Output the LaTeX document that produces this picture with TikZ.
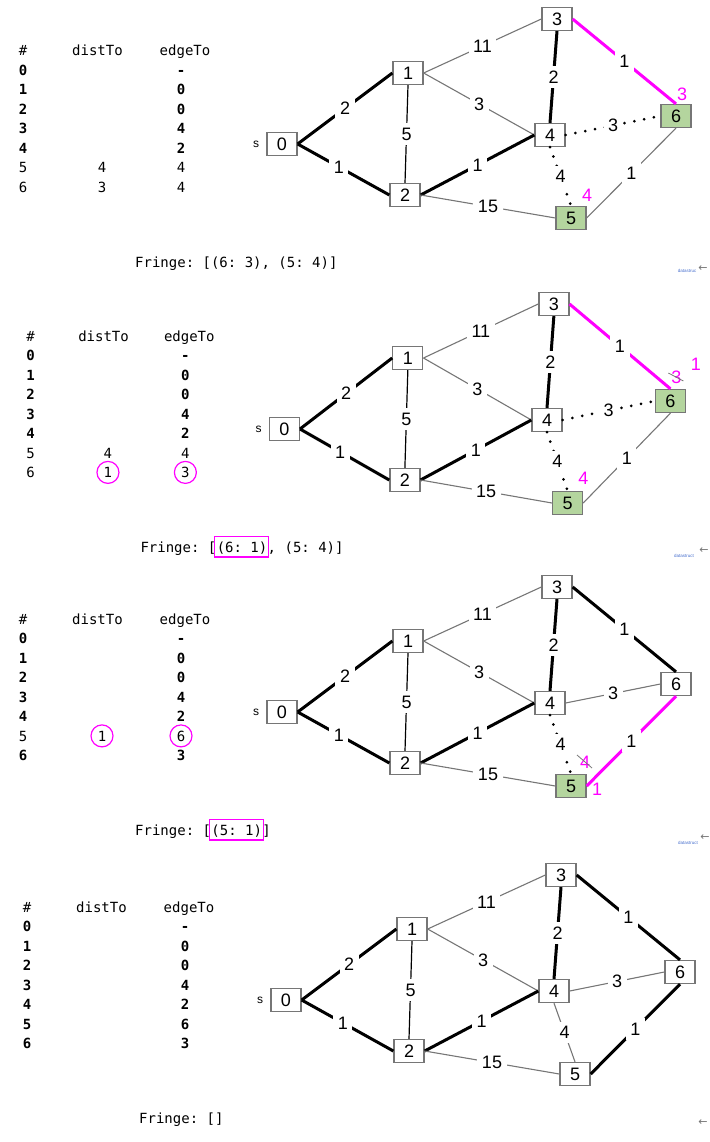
\documentclass[tikz,border=0pt]{standalone}
\usepackage{fontspec}
\setmainfont{Liberation Sans}
\newfontfamily\tabfont{DejaVu Sans Mono}
\newfontfamily\arrowfont{DejaVu Sans}
\usetikzlibrary{positioning}
\definecolor{hlpink}{RGB}{255,0,255}
\definecolor{framegray}{RGB}{118,118,118}
\definecolor{fringegreen}{RGB}{180,213,158}
\definecolor{linkblue}{RGB}{70,110,205}
\frenchspacing

\begin{document}
\begin{tikzpicture}[x=1pt,y=-1pt,
    panel a/.style={},
    panel b/.style={shift={(8,285)},xscale=.98},
    panel c/.style={shift={(0,568)}},
    panel d/.style={shift={(4,856)}},
    vtx/.style={draw=framegray,line width=1.3pt,fill=white,minimum width=30pt,minimum height=23pt,inner sep=0pt,font=\fontsize{18}{18}\selectfont},
    done/.style={fill=fringegreen},
    tree/.style={line width=3pt},
    spoke/.style={line width=1.2pt},
    side/.style={line width=1.1pt,draw=framegray},
    probe/.style={line width=3pt,dash pattern=on 0pt off 10pt,line cap=round},
    relax/.style={line width=3pt,draw=hlpink},
    wt/.style={fill=white,inner sep=4.5pt,font=\fontsize{18}{18}\selectfont},
    note/.style={text=hlpink,inner sep=0pt,font=\fontsize{18}{18}\selectfont},
    strike/.style={draw=framegray,line width=.8pt},
    cell/.style={anchor=base,inner sep=0pt,font=\tabfont\fontsize{14}{14}\selectfont},
    bcell/.style={cell,font=\tabfont\bfseries\fontsize{14}{14}\selectfont},
    ring/.style={circle,draw=hlpink,line width=1.2pt,minimum size=22pt},
    hlpen/.style={draw=hlpink,line width=1.2pt},
    src/.style={inner sep=0pt,font=\fontsize{12}{12}\selectfont},
    tiny/.style={inner sep=0pt,text=linkblue,font=\fontsize{4.5}{4.5}\selectfont},
    back/.style={inner sep=0pt,text=framegray,font=\arrowfont\fontsize{11}{11}\selectfont}]
  \useasboundingbox (0,0) rectangle (709,1142);

  % header, rows 0-4 and vertices 0-4 are the same in every step
  \foreach \p in {a,b,c,d}{
    \begin{scope}[panel \p]
      \node[cell] (\p-num) at (23,56) {\#};
      \node[cell] (\p-dist) at (97.5,56) {distTo};
      \node[cell] (\p-edge) at (185,56) {edgeTo};
      \foreach \r/\e in {0/-,1/0,2/0,3/4,4/2}{
        \node[bcell] (\p-num\r) at (23,75.5+19.5*\r) {\r};
        \node[bcell] (\p-edge\r) at (181,75.5+19.5*\r) {\e};
      }
      \foreach \n/\x/\y in {0/282/144,1/408/73,2/405/195,3/557/19,4/550/135}
        \node[vtx] (\p\n) at (\x,\y) {\n};
      \node[src,left=7pt of \p0] (\p-s) {s};
    \end{scope}
  }

  % step 1
  \begin{scope}[panel a]
    \node[cell] (a-num5) at (23,173) {5};
    \node[cell] (a-dist5) at (102,173) {4};
    \node[cell] (a-edge5) at (181,173) {4};
    \node[cell] (a-num6) at (23,192.5) {6};
    \node[cell] (a-dist6) at (102,192.5) {3};
    \node[cell] (a-edge6) at (181,192.5) {4};
    \node[cell,anchor=base west] (a-f1) at (135,267) {Fringe: [(6: 3), (5: 4)]};
    \node[vtx,done] (a5) at (571,218) {5};
    \node[vtx,done] (a6) at (676,116) {6};
    \node[note] (a-d6) at (682,94) {3};
    \node[note] (a-d5) at (587,195) {4};
  \end{scope}
  \draw[relax] (a3.east) -- node[wt] {1} (a6.north);
  \draw[probe] (a4.east) -- node[wt] {3} (a6.west);
  \draw[probe] (a4.south) -- node[wt] {4} (a5.north);
  \draw[side] (a5.east) -- node[wt] {1} (a6.south);
  \node[tiny] (a-link) at (687,271) {datastruc};
  \node[back] (a-back) at (703,269) {←};

  % step 2
  \begin{scope}[panel b]
    \node[cell] (b-num5) at (23,173) {5};
    \node[cell] (b-dist5) at (102,173) {4};
    \node[cell] (b-edge5) at (181,173) {4};
    \node[cell] (b-num6) at (23,192.5) {6};
    \node[cell,ring] (b-dist6) at (102,192.5) {1};
    \node[cell,ring] (b-edge6) at (181,192.5) {3};
    \node[cell,anchor=base west] (b-f1) at (135,267) {Fringe: [};
    \node[cell,base right=0pt of b-f1] (b-f2) {(6: 1)};
    \node[cell,base right=0pt of b-f2] (b-f3) {, (5: 4)]};
    \node[vtx,done] (b5) at (571,218) {5};
    \node[vtx,done] (b6) at (676,116) {6};
    \node[note] (b-d6) at (682,92) {3};
    \node[note] (b-d6n) at (702,79) {1};
    \node[note] (b-d5) at (587,193) {4};
  \end{scope}
  \draw[hlpen] ([shift={(-2,-5)}]b-f2.north west) rectangle ([shift={(1,3)}]b-f2.south east);
  \draw[strike] ([shift={(-8,-4)}]b-d6.center) -- ([shift={(7,4)}]b-d6.center);
  \draw[relax] (b3.east) -- node[wt] {1} (b6.north);
  \draw[probe] (b4.east) -- node[wt] {3} (b6.west);
  \draw[probe] (b4.south) -- node[wt] {4} (b5.north);
  \draw[side] (b5.east) -- node[wt] {1} (b6.south);
  \node[tiny] (b-link) at (684,556) {datastruct};
  \node[back] (b-back) at (704,551) {←};

  % step 3
  \begin{scope}[panel c]
    \node[cell] (c-num5) at (23,173) {5};
    \node[cell,ring] (c-dist5) at (102,173) {1};
    \node[cell,ring] (c-edge5) at (181,173) {6};
    \node[bcell] (c-num6) at (23,192.5) {6};
    \node[bcell] (c-edge6) at (181,192.5) {3};
    \node[cell,anchor=base west] (c-f1) at (135,267) {Fringe: [};
    \node[cell,base right=0pt of c-f1] (c-f2) {(5: 1)};
    \node[cell,base right=0pt of c-f2] (c-f3) {]};
    \node[vtx,done] (c5) at (571,218) {5};
    \node[vtx] (c6) at (676,116) {6};
    \node[note] (c-d5) at (585,194) {4};
    \node[note] (c-d5n) at (597,221) {1};
  \end{scope}
  \draw[hlpen] ([shift={(-2,-5)}]c-f2.north west) rectangle ([shift={(1,3)}]c-f2.south east);
  \draw[strike] ([shift={(-8,-7)}]c-d5.center) -- ([shift={(7,6)}]c-d5.center);
  \draw[tree] (c3.east) -- node[wt] {1} (c6.north);
  \draw[side] (c4.east) -- node[wt] {3} (c6.west);
  \draw[probe] (c4.south) -- node[wt] {4} (c5.north);
  \draw[relax] (c5.east) -- node[wt] {1} (c6.south);
  \node[tiny] (c-link) at (688,843) {datastruct};
  \node[back] (c-back) at (705,838) {←};

  % step 4
  \begin{scope}[panel d]
    \node[bcell] (d-num5) at (23,173) {5};
    \node[bcell] (d-edge5) at (181,173) {6};
    \node[bcell] (d-num6) at (23,192.5) {6};
    \node[bcell] (d-edge6) at (181,192.5) {3};
    \node[cell,anchor=base west] (d-f1) at (135,267) {Fringe: []};
    \node[vtx] (d5) at (571,218) {5};
    \node[vtx] (d6) at (676,116) {6};
  \end{scope}
  \draw[tree] (d3.east) -- node[wt] {1} (d6.north);
  \draw[side] (d4.east) -- node[wt] {3} (d6.west);
  \draw[side] (d4.south) -- node[wt] {4} (d5.north);
  \draw[tree] (d5.east) -- node[wt] {1} (d6.south);
  \node[back] (d-back) at (703,1123) {←};

  % edges shared by all steps
  \foreach \p in {a,b,c,d}{
    \draw[tree] (\p0.east) -- node[wt] {2} (\p1.west);
    \draw[tree] (\p0.east) -- node[wt,pos=.45] {1} (\p2.west);
    \draw[spoke] (\p1.south) -- node[wt] {5} (\p2.north);
    \draw[side] (\p1.east) -- node[wt] {11} (\p3.west);
    \draw[side] (\p1.east) -- node[wt] {3} (\p4.west);
    \draw[tree] (\p2.east) -- node[wt] {1} (\p4.west);
    \draw[side] (\p2.east) -- node[wt] {15} (\p5.west);
    \draw[tree] (\p3.south) -- node[wt] {2} (\p4.north);
  }
\end{tikzpicture}
\end{document}
